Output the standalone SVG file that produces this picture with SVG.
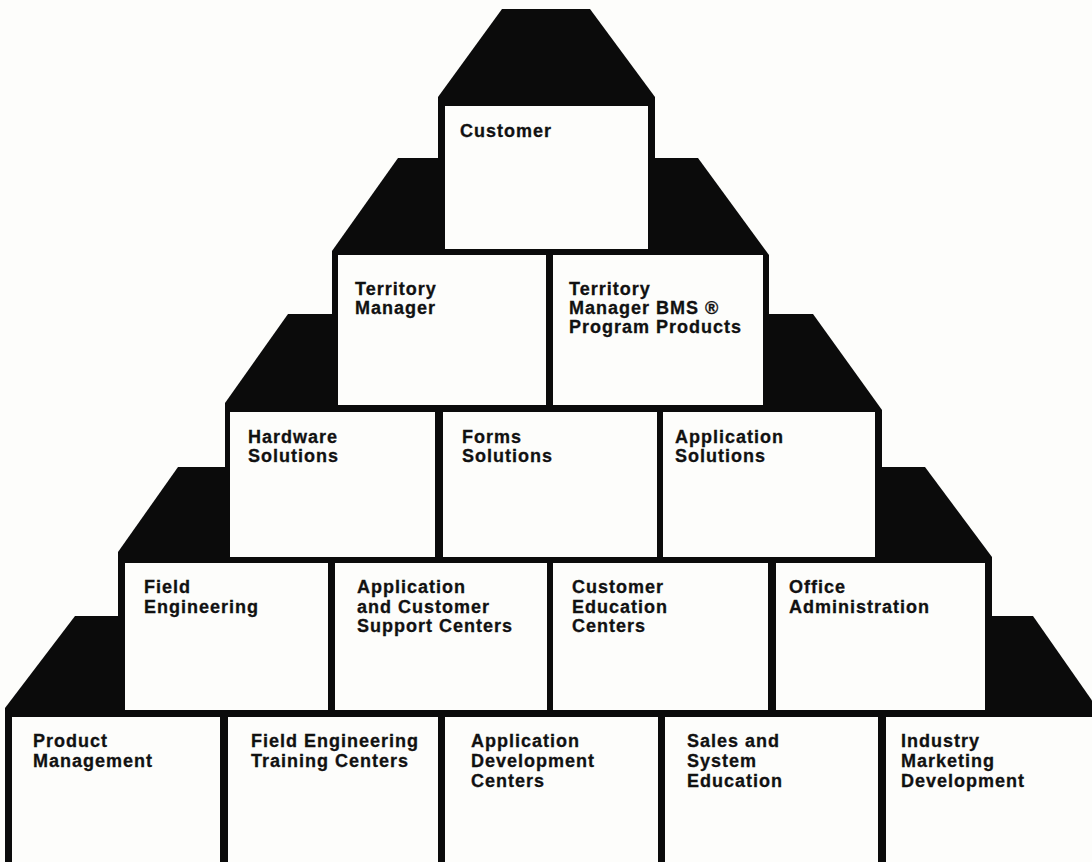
<svg xmlns="http://www.w3.org/2000/svg" width="1092" height="862" viewBox="0 0 1092 862">
  <style>
    .tier { fill: #0b0b0b; }
    .box { fill: #fdfdfb; }
    .lbl { font-family: "Liberation Sans", Arial, sans-serif; font-weight: bold; font-size: 18px; letter-spacing: 1px; fill: #111; stroke: #111; stroke-width: 0.3px; }
  </style>
  <rect x="0" y="0" width="1092" height="862" fill="#fdfdfb"/>

  <!-- black pyramid body: one stepped tier per row, drawn bottom-up -->
  <g id="pyramid-body">
    <polygon class="tier" points="75,616 1033,616 1100,712 1100,862 5,862 5,708"/>
    <polygon class="tier" points="178,467 925,467 992,557 992,714 118,714 118,552"/>
    <polygon class="tier" points="288,314 813,314 882,410 882,561 225,561 225,403"/>
    <polygon class="tier" points="398,158 698,158 769,255 769,409 332,409 332,251"/>
    <polygon class="tier" points="502,9 590,9 655,97 655,253 438,253 438,97"/>
  </g>

  <!-- row 1 -->
  <g id="customer">
    <rect class="box" x="445" y="106" width="203" height="143"/>
    <text class="lbl" x="460" y="137">Customer</text>
  </g>

  <!-- row 2 -->
  <g id="territory-manager">
    <rect class="box" x="338" y="255" width="208" height="150"/>
    <text class="lbl" x="355" y="295">Territory<tspan x="355" dy="19">Manager</tspan></text>
  </g>
  <g id="territory-manager-bms">
    <rect class="box" x="553" y="255" width="210" height="150"/>
    <text class="lbl" x="569" y="295">Territory<tspan x="569" dy="19">Manager BMS ®</tspan><tspan x="569" dy="19">Program Products</tspan></text>
  </g>

  <!-- row 3 -->
  <g id="hardware-solutions">
    <rect class="box" x="230" y="412" width="205" height="145"/>
    <text class="lbl" x="248" y="443">Hardware<tspan x="248" dy="19">Solutions</tspan></text>
  </g>
  <g id="forms-solutions">
    <rect class="box" x="443" y="412" width="214" height="145"/>
    <text class="lbl" x="462" y="443">Forms<tspan x="462" dy="19">Solutions</tspan></text>
  </g>
  <g id="application-solutions">
    <rect class="box" x="663" y="412" width="212" height="145"/>
    <text class="lbl" x="675" y="443">Application<tspan x="675" dy="19">Solutions</tspan></text>
  </g>

  <!-- row 4 -->
  <g id="field-engineering">
    <rect class="box" x="125" y="563" width="203" height="147"/>
    <text class="lbl" x="144" y="593">Field<tspan x="144" dy="19.5">Engineering</tspan></text>
  </g>
  <g id="app-customer-support-centers">
    <rect class="box" x="335" y="563" width="212" height="147"/>
    <text class="lbl" x="357" y="593">Application<tspan x="357" dy="19.5">and Customer</tspan><tspan x="357" dy="19.5">Support Centers</tspan></text>
  </g>
  <g id="customer-education-centers">
    <rect class="box" x="553" y="563" width="215" height="147"/>
    <text class="lbl" x="572" y="593">Customer<tspan x="572" dy="19.5">Education</tspan><tspan x="572" dy="19.5">Centers</tspan></text>
  </g>
  <g id="office-administration">
    <rect class="box" x="776" y="563" width="209" height="147"/>
    <text class="lbl" x="789" y="593">Office<tspan x="789" dy="19.5">Administration</tspan></text>
  </g>

  <!-- row 5 -->
  <g id="product-management">
    <rect class="box" x="12" y="717" width="208" height="145"/>
    <text class="lbl" x="33" y="747">Product<tspan x="33" dy="20">Management</tspan></text>
  </g>
  <g id="fe-training-centers">
    <rect class="box" x="228" y="717" width="210" height="145"/>
    <text class="lbl" x="251" y="747">Field Engineering<tspan x="251" dy="20">Training Centers</tspan></text>
  </g>
  <g id="app-development-centers">
    <rect class="box" x="445" y="717" width="213" height="145"/>
    <text class="lbl" x="471" y="747">Application<tspan x="471" dy="20">Development</tspan><tspan x="471" dy="20">Centers</tspan></text>
  </g>
  <g id="sales-system-education">
    <rect class="box" x="665" y="717" width="213" height="145"/>
    <text class="lbl" x="687" y="747">Sales and<tspan x="687" dy="20">System</tspan><tspan x="687" dy="20">Education</tspan></text>
  </g>
  <g id="industry-marketing-development">
    <rect class="box" x="886" y="717" width="206" height="145"/>
    <text class="lbl" x="901" y="747">Industry<tspan x="901" dy="20">Marketing</tspan><tspan x="901" dy="20">Development</tspan></text>
  </g>
</svg>
